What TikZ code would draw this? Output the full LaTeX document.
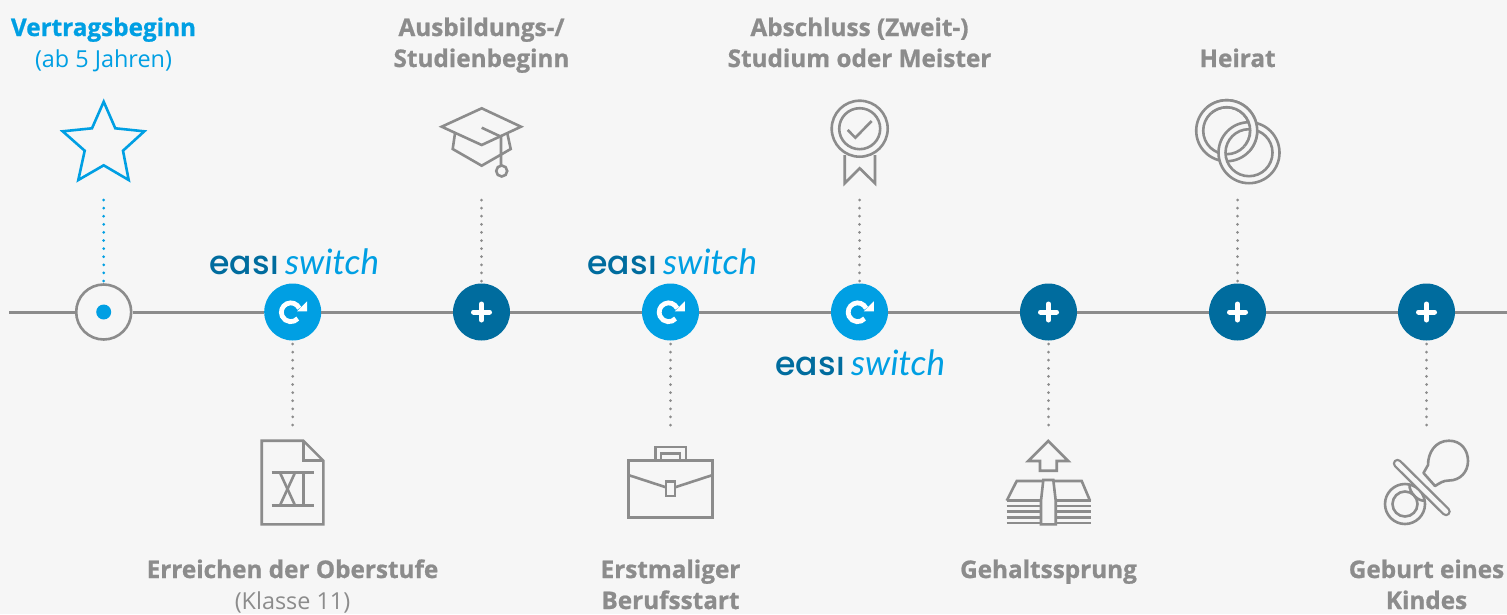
\documentclass[tikz,border=0pt]{standalone}
\usepackage{fontspec}
\setmainfont{Open Sans}[BoldFeatures={FakeBold=0.9}]
\newfontfamily\easif{Poppins Medium}[LetterSpace=1]
\newfontfamily\switchf{Lato}
\definecolor{bgc}{HTML}{F6F6F6}
\definecolor{lineg}{HTML}{8C8C8C}
\definecolor{lightb}{HTML}{009FE3}
\definecolor{darkb}{HTML}{006C9E}
\usetikzlibrary{calc}
\tikzset{
  x=1pt,y=-1pt,
  timeline/.style={line width=3pt,draw=lineg},
  dots/.style={line width=3pt,line cap=round,dash pattern=on 0pt off 8.1pt,draw=lineg},
  dotsblue/.style={dots,draw=lightb},
  icon/.style={line width=2.6pt,draw=lineg,line join=miter,fill=none},
  iconblue/.style={icon,draw=lightb},
  plusnode/.style={circle,minimum size=57pt,inner sep=0pt,fill=darkb},
  switchnode/.style={circle,minimum size=57pt,inner sep=0pt,fill=lightb},
  startnode/.style={circle,minimum size=55pt,inner sep=0pt,fill=bgc,draw=lineg,line width=2.6pt},
  head/.style={anchor=base,text=lineg,font=\bfseries\fontsize{24.3}{28}\selectfont,inner sep=0pt},
  sub/.style={anchor=base,text=lineg,font=\fontsize{23.4}{26}\selectfont,inner sep=0pt},
  easitext/.style={anchor=base west,text=darkb,font=\easif\fontsize{33}{36}\selectfont,inner sep=0pt},
  switchtext/.style={anchor=base west,text=lightb,font=\switchf\itshape\fontsize{35}{40}\selectfont,inner sep=0pt},
}
\newcommand{\plussign}[1]{%
  \draw[white,line width=5pt,line cap=round] ($(#1)+(-8,0)$) -- ($(#1)+(8,0)$);
  \draw[white,line width=5pt,line cap=round] ($(#1)+(0,-8)$) -- ($(#1)+(0,8)$);}
\newcommand{\refreshsign}[1]{%
  \draw[white,line width=4.8pt] ($(#1)+(6.6,-3.7)$) arc[start angle=-25,end angle=-318,radius=9.4];
  \fill[white] ($(#1)+(14.3,-10.7)$) -- ($(#1)+(14.3,-0.7)$) -- ($(#1)+(4.3,-0.7)$) -- cycle;}
\begin{document}
\begin{tikzpicture}
\useasboundingbox[fill=bgc] (0,0) rectangle (1507,614);
% timeline nodes
\coordinate (tstart) at (9,312);
\coordinate (tend) at (1507,312);
\node[startnode] (n1) at (103.7,312) {};
\node[switchnode] (n2) at (292.7,312) {};
\node[plusnode] (n3) at (481.5,312) {};
\node[switchnode] (n4) at (670.5,312) {};
\node[switchnode] (n5) at (859.5,312) {};
\node[plusnode] (n6) at (1048.5,312) {};
\node[plusnode] (n7) at (1237.5,312) {};
\node[plusnode] (n8) at (1426.5,312) {};
\draw[timeline] (tstart) -- (n1);
\draw[timeline] (n1) -- (n2);
\draw[timeline] (n2) -- (n3);
\draw[timeline] (n3) -- (n4);
\draw[timeline] (n4) -- (n5);
\draw[timeline] (n5) -- (n6);
\draw[timeline] (n6) -- (n7);
\draw[timeline] (n7) -- (n8);
\draw[timeline] (n8) -- (tend);
\fill[lightb] (n1) circle[radius=7.5];
\refreshsign{n2}\refreshsign{n4}\refreshsign{n5}
\plussign{n3}\plussign{n6}\plussign{n7}\plussign{n8}
% dotted connectors
\coordinate (d1) at (103.7,200);
\coordinate (d2) at (292.7,425);
\coordinate (d3) at (481.5,200);
\coordinate (d4) at (670.5,425);
\coordinate (d5) at (859.5,200);
\coordinate (d6) at (1048.5,425);
\coordinate (d7) at (1237.5,200);
\coordinate (d8) at (1426.5,425);
\draw[dotsblue] (d1) -- (103.7,282);
\draw[dots] (d3) -- (481.5,282);
\draw[dots] (d5) -- (859.5,282);
\draw[dots] (d7) -- (1237.5,282);
\draw[dots] (292.7,344) -- (d2);
\draw[dots] (670.5,344) -- (d4);
\draw[dots] (1048.5,344) -- (d6);
\draw[dots] (1426.5,344) -- (d8);
% star
\draw[iconblue] (103.7,101.7) -- (115.3,128.3) -- (144.3,131.3) -- (123,150.7) -- (128.7,180) -- (103.7,165.3) -- (78.3,180) -- (84.7,150.7) -- (62.7,131.3) -- (92,128.3) -- cycle;
% hat
\draw[icon] (481.7,108.3) -- (521,126.7) -- (481.7,145) -- (441.7,126.7) -- cycle;
\draw[icon] (455,133.3) -- (452.7,149) -- (481.7,165.7) -- (510.7,149) -- (507.3,133.3);
\draw[icon] (481.7,127.7) -- (501,136.7) -- (501,165);
\draw[icon] (501.7,171) circle[radius=5.5];
% medal
\draw[icon] (859.7,128.7) circle[radius=28];
\draw[icon] (859.7,128.7) circle[radius=20.5];
\draw[icon] (847.7,130) -- (855.3,137.7) -- (871.7,121);
\draw[icon] (844.7,155) -- (844.7,183.3) -- (859.7,168.3) -- (875,183.3) -- (875,155);
% rings
\draw[icon] (1226.7,130.7) circle[radius=30.5];
\draw[icon] (1226.7,130.7) circle[radius=23.5];
\fill[bgc,even odd rule] (1249,152.7) circle[radius=30.5] (1249,152.7) circle[radius=23.5];
\draw[icon] (1249,152.7) circle[radius=30.5];
\draw[icon] (1249,152.7) circle[radius=23.5];
\begin{scope}
\clip (1160,60) -- (1320,60) -- (1320,223.5) -- cycle;
\fill[bgc,even odd rule] (1226.7,130.7) circle[radius=30.5] (1226.7,130.7) circle[radius=23.5];
\draw[icon] (1226.7,130.7) circle[radius=30.5];
\draw[icon] (1226.7,130.7) circle[radius=23.5];
\end{scope}
% document
\draw[icon] (261.7,440.7) -- (303.3,440.7) -- (323.3,460.7) -- (323.3,524.3) -- (261.7,524.3) -- cycle;
\draw[icon] (303.3,440.7) -- (303.3,460.7) -- (323.3,460.7);
\draw[icon] (271.7,472.7) -- (314,472.7);
\draw[icon] (271.7,505.3) -- (314,505.3);
\draw[icon] (280,472.7) -- (295,505.3);
\draw[icon] (295,472.7) -- (280,505.3);
\draw[icon] (303.3,472.7) -- (303.3,505.3);
% briefcase
\draw[icon] (628.3,460.7) rectangle (712.7,517.7);
\draw[icon] (655.3,460.7) -- (655.3,447) -- (686,447) -- (686,460.7);
\draw[icon] (661,460.7) -- (661,453.3) -- (680,453.3) -- (680,460.7);
\draw[icon] (628.3,475) -- (666,487.3);
\draw[icon] (675,487.3) -- (712.7,475);
\draw[icon] (666,481.7) rectangle (675,496);
% money
\draw[icon] (1048.3,441) -- (1068.3,461) -- (1056.7,461) -- (1056.7,470.7) -- (1040,470.7) -- (1040,461) -- (1028.3,461) -- cycle;
\draw[icon] (1006.7,500.7) -- (1016.7,481) -- (1043.3,481);
\draw[icon] (1053.3,481) -- (1081.7,481) -- (1090,500.7);
\draw[icon] (1041,524.3) -- (1041,500.7) -- (1043.3,480) -- (1053.3,480) -- (1055.7,500.7) -- (1055.7,524.3) -- cycle;
\foreach \yy in {500.7,506,511.7,517.3,523}{
  \draw[icon] (1006.7,\yy) -- (1041,\yy);
  \draw[icon] (1055.7,\yy) -- (1091,\yy);
}
% pacifier
\draw[icon] (1405,504) circle[radius=20];
\draw[icon] (1405,504) circle[radius=12.5];
\draw[icon] (1409.5,485) .. controls (1409,492) and (1418,502) .. (1425,500.5);
\draw[icon,line join=round] (1423.5,473) -- (1428,465) .. controls (1428,453) and (1435,440.7) .. (1449,440.7) .. controls (1461,440.7) and (1468,450) .. (1468,461) .. controls (1468,472) and (1460,480.5) .. (1449,480.5) .. controls (1443,480.5) and (1440,483) .. (1435,486) -- cycle;
\draw[line width=9.5pt,line cap=round,draw=lineg] (1397.5,463.5) -- (1446,511.5);
\draw[line width=4.7pt,line cap=round,draw=bgc] (1397.5,463.5) -- (1446,511.5);
% labels
\node[head,text=lightb] (t1a) at (103.5,36) {\textbf{Vertragsbeginn}};
\node[sub,text=lightb] (t1b) at (103.5,67) {(ab 5 Jahren)};
\node[head] (t3a) at (481.5,36) {\textbf{Ausbildungs-/}};
\node[head] (t3b) at (481.5,67) {\textbf{Studienbeginn}};
\node[head] (t5a) at (859.5,36) {\textbf{Abschluss (Zweit-)}};
\node[head] (t5b) at (859.5,67) {\textbf{Studium oder Meister}};
\node[head] (t7a) at (1237.5,67) {\textbf{Heirat}};
\node[head] (t2a) at (292.5,578) {\textbf{Erreichen der Oberstufe}};
\node[sub] (t2b) at (292.5,609) {(Klasse 11)};
\node[head] (t4a) at (670.5,578) {\textbf{Erstmaliger}};
\node[head] (t4b) at (670.5,609) {\textbf{Berufsstart}};
\node[head] (t6a) at (1048.5,578) {\textbf{Gehaltssprung}};
\node[head] (t8a) at (1426.5,578) {\textbf{Geburt eines}};
\node[head] (t8b) at (1426.5,609) {\textbf{Kindes}};
% logos
\node[easitext] (e1) at (209,274) {eası};
\node[switchtext] (s1) at (285,274) {switch};
\node[easitext] (e2) at (587,274) {eası};
\node[switchtext] (s2) at (663,274) {switch};
\node[easitext] (e3) at (775,375) {eası};
\node[switchtext] (s3) at (851,375) {switch};
\end{tikzpicture}
\end{document}
